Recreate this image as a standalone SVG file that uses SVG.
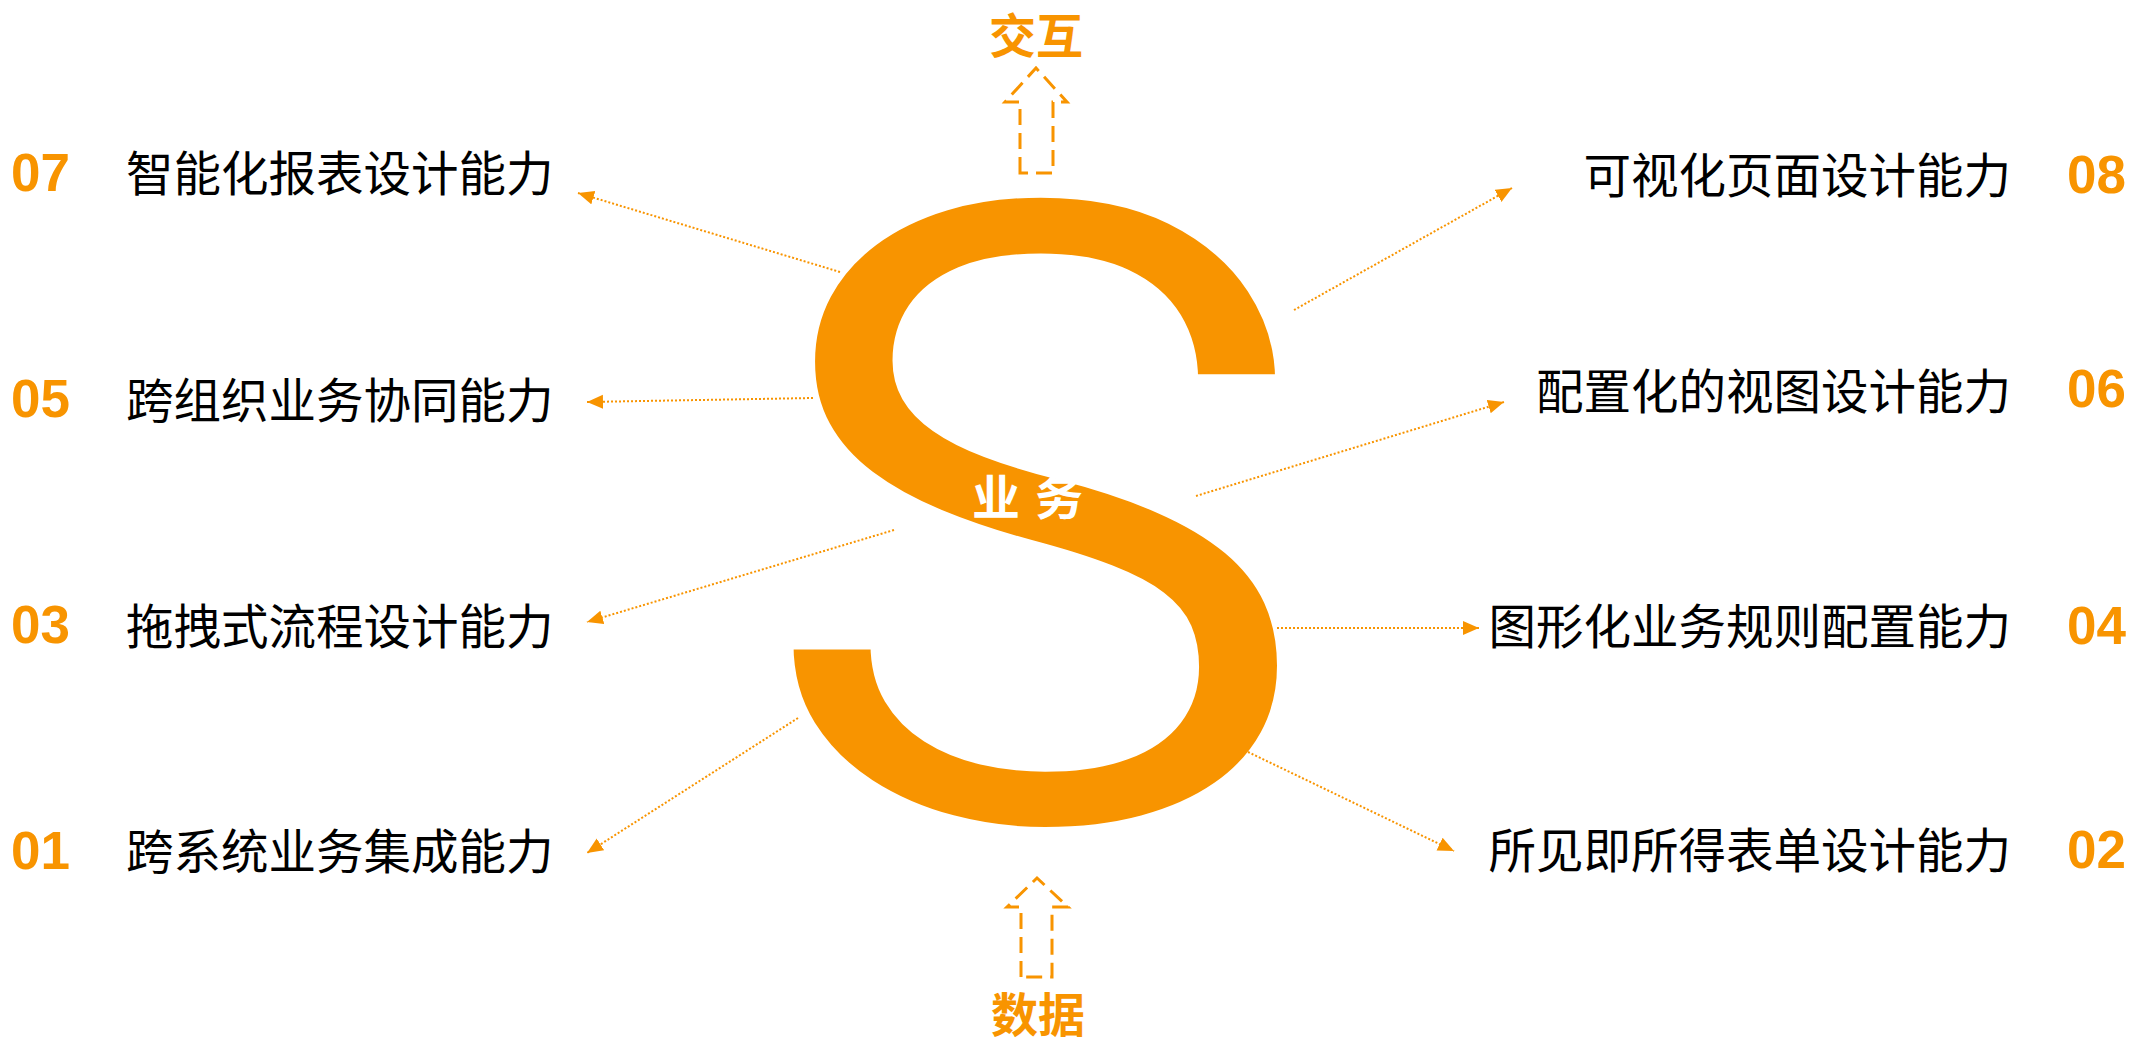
<svg xmlns="http://www.w3.org/2000/svg" width="2131" height="1043" viewBox="0 0 2131 1043">
<defs>
<marker id="ah" markerUnits="userSpaceOnUse" markerWidth="18" markerHeight="16" refX="16" refY="7" orient="auto">
<path d="M0,0 L16,7 L0,14 Z" fill="#F89400"/>
</marker>
<style>
.num{font-family:"Liberation Sans",Arial,sans-serif;font-weight:bold;font-size:53px;fill:#F89400}
.lab{font-family:"Noto Sans CJK SC","Noto Sans",sans-serif;font-size:47.5px;fill:#000}
.lr{text-anchor:end}
.key{font-family:"Noto Sans CJK SC",sans-serif;font-weight:bold;font-size:47px;fill:#F89400;text-anchor:middle}
.con{fill:none;stroke:#F89400;stroke-width:2;stroke-dasharray:2 2;marker-end:url(#ah)}
.dash{fill:none;stroke:#F89400;stroke-width:3;stroke-dasharray:16 8}
</style>
</defs>
<rect width="2131" height="1043" fill="#fff"/>

<g id="center-s">
<text transform="translate(785,0) scale(1.095,1)" x="-33" y="824.5" font-family="Roboto,'Liberation Sans',sans-serif" font-size="878" fill="#F89400" stroke="#fff" stroke-width="12">S</text>
<text x="972 1035" y="515" font-family="'Noto Sans CJK SC',sans-serif" font-weight="bold" font-size="48" fill="#fff">业务</text>
</g>

<g id="top-interaction">
<path class="dash" d="M1020,173 L1020,102 L1005,102 L1036,68 L1067,102 L1053,102 L1053,173 Z"/>
<text class="key" x="1036" y="53">交互</text>
</g>

<g id="bottom-data">
<path class="dash" d="M1021,977 L1021,907 L1007,907 L1037,878 L1068,907 L1052,907 L1052,977 Z"/>
<text class="key" x="1038" y="1032">数据</text>
</g>

<g id="connectors">
<line class="con" x1="840" y1="272" x2="578" y2="193"/>
<line class="con" x1="813" y1="398" x2="587" y2="402"/>
<line class="con" x1="894" y1="530" x2="587" y2="622"/>
<line class="con" x1="798" y1="718" x2="587" y2="853"/>
<line class="con" x1="1294" y1="310" x2="1512" y2="188"/>
<line class="con" x1="1196" y1="496" x2="1504" y2="402"/>
<line class="con" x1="1277" y1="628" x2="1479" y2="628"/>
<line class="con" x1="1248" y1="752" x2="1454" y2="851"/>
</g>

<g id="item-07">
<text class="num" x="11" y="191">07</text>
<text class="lab" x="126" y="191">智能化报表设计能力</text>
</g>
<g id="item-05">
<text class="num" x="11" y="417">05</text>
<text class="lab" x="126" y="418">跨组织业务协同能力</text>
</g>
<g id="item-03">
<text class="num" x="11" y="643">03</text>
<text class="lab" x="126" y="644">拖拽式流程设计能力</text>
</g>
<g id="item-01">
<text class="num" x="11" y="869">01</text>
<text class="lab" x="126" y="869">跨系统业务集成能力</text>
</g>
<g id="item-08">
<text class="lab lr" x="2011" y="193">可视化页面设计能力</text>
<text class="num" x="2067" y="193">08</text>
</g>
<g id="item-06">
<text class="lab lr" x="2011" y="409">配置化的视图设计能力</text>
<text class="num" x="2067" y="407">06</text>
</g>
<g id="item-04">
<text class="lab lr" x="2011" y="644">图形化业务规则配置能力</text>
<text class="num" x="2067" y="644">04</text>
</g>
<g id="item-02">
<text class="lab lr" x="2011" y="868">所见即所得表单设计能力</text>
<text class="num" x="2067" y="868">02</text>
</g>
</svg>
